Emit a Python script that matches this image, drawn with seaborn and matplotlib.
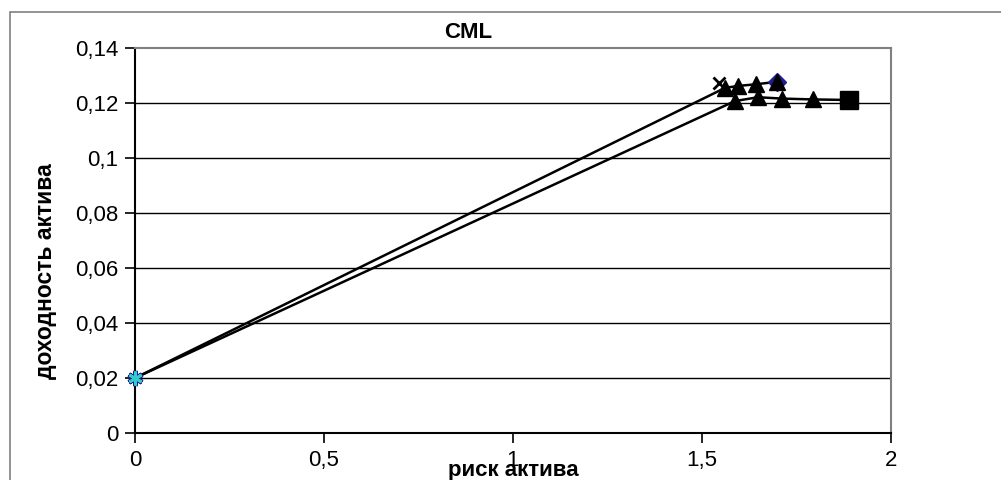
import matplotlib
matplotlib.use("Agg")
import matplotlib.pyplot as plt
import seaborn as sns
from matplotlib.patches import Rectangle
from matplotlib.ticker import FuncFormatter

# Capital market lines from the risk-free asset
rf_risk = 0.0
rf_return = 0.02

cml_upper_risk = [0.0, 1.561]
cml_upper_return = [0.02, 0.1255]
cml_lower_risk = [0.0, 1.587]
cml_lower_return = [0.02, 0.1207]

# Portfolio sets (risk, return)
top_risk = [1.561, 1.595, 1.642, 1.698]
top_return = [0.1255, 0.1262, 0.1268, 0.1277]
bottom_risk = [1.587, 1.648, 1.712, 1.794, 1.888]
bottom_return = [0.1207, 0.1221, 0.1216, 0.1213, 0.1211]

tangent_risk = [1.545]
tangent_return = [0.1272]

x_ticks = [0, 0.5, 1, 1.5, 2]
y_ticks = [0, 0.02, 0.04, 0.06, 0.08, 0.10, 0.12, 0.14]

sns.set_theme(style="white")
plt.rcParams["font.family"] = ["Liberation Sans", "DejaVu Sans"]
plt.rcParams["text.color"] = "black"
plt.rcParams["axes.labelcolor"] = "black"

fig = plt.figure(figsize=(10.01, 4.80), dpi=100)
fig.patch.set_facecolor("white")
# outer chart frame
fig.patches.append(Rectangle((10 / 1001, -0.2), 1.5, 1.2 - 12 / 480,
                             transform=fig.transFigure, fill=False,
                             edgecolor="#808080", linewidth=1.2))

ax = fig.add_axes([135 / 1001, 1 - 433 / 480, (891 - 135) / 1001, (433 - 48) / 480])
ax.set_xlim(0, 2)
ax.set_ylim(0, 0.14)

# horizontal gridlines
for yv in y_ticks[1:-1]:
    ax.axhline(yv, color="black", linewidth=1.0, zorder=1)

line_kw = dict(color="black", linewidth=1.8, sort=False, estimator=None, ax=ax, legend=False)

sns.lineplot(x=cml_upper_risk, y=cml_upper_return, zorder=3, **line_kw)
sns.lineplot(x=cml_lower_risk, y=cml_lower_return, zorder=3, **line_kw)
sns.lineplot(x=top_risk, y=top_return, zorder=3, **line_kw)
sns.lineplot(x=bottom_risk, y=bottom_return, zorder=3, **line_kw)

# markers
ax.plot(top_risk[-1:], top_return[-1:], marker="D", markersize=9, color="#1f1f8f",
        linestyle="none", zorder=4)
ax.plot(top_risk, top_return, marker="^", markersize=12, color="black",
        linestyle="none", zorder=5)
ax.plot(bottom_risk[:-1], bottom_return[:-1], marker="^", markersize=12, color="black",
        linestyle="none", zorder=5)
ax.plot(bottom_risk[-1:], bottom_return[-1:], marker="s", markersize=13, color="black",
        linestyle="none", zorder=5)
ax.plot(tangent_risk, tangent_return, marker="x", markersize=8, markeredgewidth=2,
        color="black", linestyle="none", zorder=5)
ax.plot([rf_risk], [rf_return], marker=(6, 2, 0), markersize=11, markeredgewidth=3.5,
        color="#1f1f8f", linestyle="none", zorder=6, clip_on=False)
ax.plot([rf_risk], [rf_return], marker=(6, 2, 0), markersize=10, markeredgewidth=2,
        color="#33cccc", linestyle="none", zorder=7, clip_on=False)

ax.set_xticks(x_ticks)
ax.set_yticks(y_ticks)
comma = FuncFormatter(lambda v, p: ("%g" % round(v, 2)).replace(".", ","))
ax.xaxis.set_major_formatter(comma)
ax.yaxis.set_major_formatter(comma)
ax.tick_params(axis="both", direction="out", length=7, width=1.2, color="black",
               labelsize=16, labelcolor="black", pad=5)
ax.tick_params(axis="x", pad=5)
ax.tick_params(left=True, bottom=True)

for side in ["left", "bottom"]:
    ax.spines[side].set_color("black")
    ax.spines[side].set_linewidth(1.5)
for side in ["top", "right"]:
    ax.spines[side].set_color("#808080")
    ax.spines[side].set_linewidth(1.5)
    ax.spines[side].set_visible(True)

fig.text(468 / 1001, 1 - 33 / 480, "CML", fontsize=16, fontweight="bold",
         ha="center", va="center")
ax.set_xlabel("риск актива", fontsize=16, fontweight="bold")
ax.xaxis.set_label_coords(0.5, -0.097)
ax.xaxis.label.set_va("center")
ax.set_ylabel("доходность актива", fontsize=16.5, fontweight="bold")
ax.yaxis.set_label_coords(-0.118, 0.42)
ax.yaxis.label.set_va("center")

fig.savefig("out.png", dpi=100)
